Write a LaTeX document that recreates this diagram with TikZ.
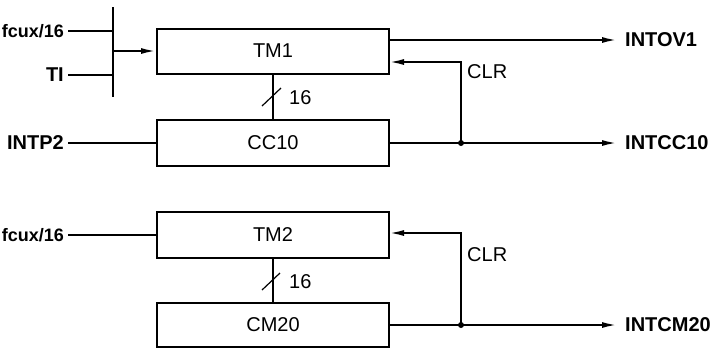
\documentclass[tikz,border=0pt]{standalone}
\usepackage{fontspec}
\setmainfont{Liberation Sans}
\usetikzlibrary{arrows.meta,calc}
\begin{document}
\begin{tikzpicture}[x=1pt,y=-1pt,
  every node/.style={font=\fontsize{20}{22}\selectfont},
  blk/.style={draw,line width=2pt,rectangle,minimum width=232pt,minimum height=45pt,inner sep=0pt},
  lbl/.style={inner xsep=4pt,inner ysep=0pt,font=\fontsize{20}{22}\selectfont\bfseries},
  wire/.style={line width=2pt},
  bus/.style={line width=1.2pt},
  arr/.style={wire,-{Latex[length=15pt,width=6pt]}},
  dot/.style={circle,fill,inner sep=0pt,minimum size=6pt}]
\useasboundingbox (0,0) rectangle (717,349);
% blocks
\node[blk] (tm1) at (273,51) {TM1};
\node[blk,minimum height=46pt] (cc10) at (273,143) {CC10};
\node[blk,minimum height=46pt] (tm2) at (273,235) {TM2};
\node[blk,minimum height=44pt] (cm20) at (273,325) {CM20};
% left labels
\node[lbl,anchor=east,font=\fontsize{18}{20}\selectfont\bfseries] (fa) at (68,31) {fcux/16};
\node[lbl,anchor=east] (ti) at (68,75) {TI};
\node[lbl,anchor=east] (intp2) at (68,143) {INTP2};
\node[lbl,anchor=east,font=\fontsize{18}{20}\selectfont\bfseries] (fb) at (68,235) {fcux/16};
% right labels
\node[lbl,anchor=west,inner xsep=8pt] (intov1) at (617,40) {INTOV1};
\node[lbl,anchor=west,inner xsep=8pt] (intcc10) at (617,143) {INTCC10};
\node[lbl,anchor=west,inner xsep=8pt] (intcm20) at (617,325) {INTCM20};
% other labels
\node[anchor=west,inner sep=0pt] (clr1) at (467,72) {CLR};
\node[anchor=west,inner sep=0pt] (clr2) at (467,255) {CLR};
\node[anchor=west,inner sep=0pt] (w1) at (289,98) {16};
\node[anchor=west,inner sep=0pt] (w2) at (289,282) {16};
% coordinates
\coordinate (bt) at (113,7);
\coordinate (bb) at (113,97);
\coordinate (b1) at (113,31);
\coordinate (b2) at (113,75);
\coordinate (b3) at (113,51);
\coordinate (ov) at (389,40);
\coordinate (c1) at (389,62);
\coordinate (c2) at (389,233);
\node[dot] (j1) at (461,143) {};
\node[dot] (j2) at (461,325) {};
% top section
\draw[wire] (bt) -- (bb);
\draw[wire] (fa.east) -- (b1);
\draw[wire] (ti.east) -- (b2);
\draw[arr] (b3) -- (tm1.west);
\draw[arr] (ov) -- (intov1.west);
\draw[wire] (intp2.east) -- (cc10.west);
\draw[arr] (cc10.east) -- (intcc10.west);
\draw[arr] (j1.center) |- (c1);
\draw[bus] (tm1.south) -- (cc10.north);
\draw[bus] (262,106) -- (281,88);
% bottom section
\draw[wire] (fb.east) -- (tm2.west);
\draw[arr] (cm20.east) -- (intcm20.west);
\draw[arr] (j2.center) |- (c2);
\draw[bus] (tm2.south) -- (cm20.north);
\draw[bus] (262,290) -- (280,273);
\end{tikzpicture}
\end{document}
